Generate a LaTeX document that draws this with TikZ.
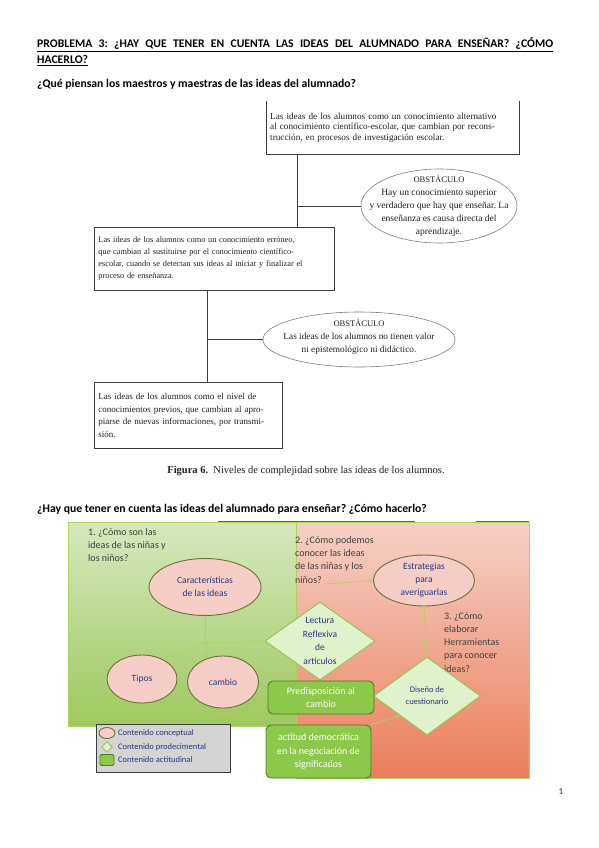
\documentclass[tikz,border=0pt]{standalone}
\usepackage{fontspec}
\setmainfont{Liberation Serif}
\newfontfamily\calibri{Carlito}
\usepackage{xcolor}
\usetikzlibrary{arrows.meta, positioning, shapes.geometric}
\definecolor{tinta}{RGB}{30, 30, 30}
\definecolor{marco}{RGB}{60, 60, 60}
\definecolor{obstgris}{RGB}{125, 125, 125}
\definecolor{verdesup}{RGB}{214, 232, 190}
\definecolor{verdeinf}{RGB}{158, 200, 94}
\definecolor{rojosup}{RGB}{246, 208, 198}
\definecolor{rojoinf}{RGB}{234, 126, 90}
\definecolor{rosa}{RGB}{247, 205, 200}
\definecolor{oliva}{RGB}{105, 115, 50}
\definecolor{verdeclaro}{RGB}{224, 242, 204}
\definecolor{verdeborde}{RGB}{150, 196, 80}
\definecolor{verdeact}{RGB}{140, 200, 74}
\definecolor{verdeoscuro}{RGB}{80, 120, 40}
\definecolor{azul}{RGB}{40, 55, 125}
\definecolor{flecha}{RGB}{170, 212, 92}
\definecolor{gris}{RGB}{64, 64, 64}
\definecolor{leyenda}{RGB}{212, 212, 212}
\newcommand{\fila}[2]{\makebox[#1][s]{#2}}
\frenchspacing

\begin{document}
\begin{tikzpicture}[x=1pt, y=-1pt, >=Stealth,
  encabezado/.style={anchor=base west, inner sep=0pt,
    font=\calibri\bfseries\fontsize{11.7}{13}\selectfont},
  caja/.style={rectangle, anchor=north west, inner xsep=4pt, inner ysep=0pt,
    align=left, text=tinta},
  obst/.style={ellipse, draw=obstgris, line width=0.6pt, inner sep=0pt},
  enlace/.style={marco, line width=0.9pt},
  concepto/.style={ellipse, draw=oliva, fill=rosa, line width=0.9pt, text=azul,
    inner sep=0pt, align=center, font=\calibri\fontsize{9.5}{13}\selectfont},
  procedim/.style={diamond, draw=verdeborde, fill=verdeclaro, line width=0.9pt,
    text=azul, inner sep=0pt, align=center},
  actitud/.style={rectangle, rounded corners=5pt, draw=verdeoscuro, fill=verdeact,
    line width=0.9pt, text=white, align=center,
    font=\calibri\fontsize{10}{13.5}\selectfont},
  pregunta/.style={anchor=north west, align=left, text=gris, inner sep=0pt,
    font=\calibri\fontsize{10}{13.3}\selectfont},
  conector/.style={flecha, line width=0.7pt},
  punta/.style={conector, -{Straight Barb[length=3pt, width=4pt]}}]

  \useasboundingbox (0,0) rectangle (599,848);

  % --- page headings ---
  \node[encabezado] (titulo1) at (37,47.5)
    {\underline{\fila{516pt}{PROBLEMA 3: ¿HAY QUE TENER EN CUENTA LAS IDEAS DEL ALUMNADO PARA ENSEÑAR? ¿CÓMO}}};
  \node[encabezado] (titulo2) at (37,63.5) {\underline{HACERLO?}};
  \node[encabezado] (pregunta1) at (37,88)
    {¿Qué piensan los maestros y maestras de las ideas del alumnado?};

  % --- figura 6: niveles (cajas) ---
  \node[caja, text width=245pt, minimum height=53pt, font=\fontsize{9.2}{10.2}\selectfont]
    (nivel1) at (266,101)
    {\fila{245pt}{Las ideas de los alumnos como un conocimiento alternativo}\\
     \fila{245pt}{al conocimiento científico-escolar, que cambian por recons-}\\
     trucción, en procesos de investigación escolar.};
  \draw[enlace] (nivel1.north west) |- (nivel1.south east) -- (nivel1.north east);

  \node[caja, draw=marco, line width=0.9pt, text width=232pt, minimum height=63pt,
    font=\fontsize{8.3}{12}\selectfont]
    (nivel2) at (94,227)
    {\fila{232pt}{Las ideas de los alumnos como un conocimiento erróneo,}\\
     \fila{232pt}{que cambian al sustituirse por el conocimiento científico-}\\
     \fila{232pt}{escolar, cuando se detectan sus ideas al iniciar y finalizar el}\\
     proceso de enseñanza.};

  \node[caja, draw=marco, line width=0.9pt, text width=180pt, minimum height=66pt,
    font=\fontsize{9}{12.5}\selectfont]
    (nivel3) at (94,382)
    {\fila{180pt}{Las ideas de los alumnos como el nivel de}\\
     \fila{180pt}{conocimientos previos, que cambian al apro-}\\
     \fila{180pt}{piarse de nuevas informaciones, por transmi-}\\
     sión.};

  % --- obstaculos ---
  \node[obst, minimum width=156pt, minimum height=74pt,
    label={[align=center, text=tinta, font=\fontsize{9.5}{13}\selectfont]center:
      {\fontsize{8.5}{13}\selectfont OBSTÁCULO}\\Hay un conocimiento superior\\
      y verdadero que hay que enseñar. La\\enseñanza es causa directa del\\aprendizaje.}]
    (obst1) at (439,206) {};
  \node[obst, minimum width=192pt, minimum height=55pt,
    label={[align=center, text=tinta, yshift=3pt, font=\fontsize{9.3}{13}\selectfont]center:
      {\fontsize{8.5}{13}\selectfont OBSTÁCULO}\\Las ideas de los alumnos no tienen valor\\
      ni epistemológico ni didáctico.}]
    (obst2) at (359,339.5) {};

  % --- trazos verticales y ramas ---
  \coordinate (eje1) at (297,0);
  \coordinate (eje2) at (207,0);
  \draw[enlace] (nivel1.south -| eje1) -- (nivel2.north -| eje1);
  \draw[enlace] (eje1 |- obst1.west) -- (obst1.west);
  \draw[enlace] (nivel2.south -| eje2) -- (nivel3.north -| eje2);
  \draw[enlace] (eje2 |- obst2.west) -- (obst2.west);

  \node[font=\fontsize{10.5}{12}\selectfont, text=tinta] (pie) at (306,471)
    {\textbf{Figura 6.}\ \ Niveles de complejidad sobre las ideas de los alumnos.};

  % --- second heading ---
  \node[encabezado] (pregunta2) at (37,512)
    {¿Hay que tener en cuenta las ideas del alumnado para enseñar? ¿Cómo hacerlo?};

  % --- fondos degradados ---
  \shade[top color=rojosup, bottom color=rojoinf] (296,522) rectangle (529,778);
  \draw[flecha, line width=0.8pt] (296,522) rectangle (529,778);
  \shade[top color=verdesup, bottom color=verdeinf] (68,522) rectangle (296,726);
  \draw[flecha, line width=0.8pt] (68,522) rectangle (296,726);
  \draw[verdeoscuro, line width=1.4pt] (218,521.5) -- (415,521.5);
  \draw[verdeoscuro, line width=1.4pt] (476,521.5) -- (529,521.5);

  % --- preguntas ---
  \node[pregunta] (preg1) at (88,528) {1. ¿Cómo son las\\ideas de las niñas y\\los niños?};
  \node[pregunta] (preg2) at (295,536) {2. ¿Cómo podemos\\conocer las ideas\\de las niñas y los\\niños?};
  \node[pregunta] (preg3) at (444,612) {3. ¿Cómo\\elaborar\\Herramientas\\para conocer\\ideas?};

  % --- contenidos ---
  \node[concepto, minimum width=112pt, minimum height=57pt] (caract) at (205,587)
    {Características\\de las ideas};
  \node[concepto, minimum width=70pt, minimum height=48pt] (tipos) at (142,679) {Tipos};
  \node[concepto, minimum width=71pt, minimum height=52pt] (cambio) at (223,682) {cambio};
  \node[concepto, minimum width=101pt, minimum height=51pt] (estr) at (424,580.5)
    {Estrategias\\para\\averiguarlas};
  \node[procedim, minimum width=110pt, minimum height=78pt, shape aspect=1.41,
    font=\calibri\fontsize{9.5}{13.5}\selectfont] (lectura) at (320,641)
    {Lectura\\Reflexiva\\de\\artículos};
  \node[procedim, minimum width=107pt, minimum height=78pt, shape aspect=1.37,
    font=\calibri\fontsize{8.5}{12}\selectfont] (diseno) at (427,696)
    {Diseño de\\cuestionario};
  \node[actitud, minimum width=106pt, minimum height=33pt] (predis) at (321,697.5)
    {Predisposición al\\cambio};
  \node[actitud, minimum width=105pt, minimum height=53pt] (actit) at (318.5,751.5)
    {actitud democrática\\en la negociación de\\significados};

  % --- conectores ---
  \coordinate (nudo) at (205,643);
  \coordinate (cruce) at (estr.south |- lectura.east);
  \coordinate (salida2) at (325,584);
  \draw[conector] (caract.south) -- (nudo);
  \draw[punta] (lectura.west) -- (nudo);
  \draw[punta, dashed] (nudo) -- (tipos.40);
  \draw[punta] (nudo) -- (cambio.125);
  \draw[punta] (lectura.east) -- (cruce);
  \draw[conector] (estr.south) -- (diseno.north);
  \draw[punta] (salida2) -- (estr.west);
  \draw[punta, dashed] (actit.north west) -- (tipos.-40);
  \draw[punta, dashed] (actit.north west) -- (cambio.-70);
  \draw[punta] (actit.north east) -- (diseno.south west);

  % --- leyenda ---
  \node[draw=marco, fill=leyenda, line width=1pt, minimum width=134pt, minimum height=48pt,
    anchor=north west] (leyenda) at (96,724) {};
  \tikzset{
    legconc/.style={concepto, minimum width=16pt, minimum height=11pt},
    legproc/.style={procedim, minimum width=11pt, minimum height=11pt},
    legact/.style={actitud, rounded corners=1.5pt, minimum width=14pt, minimum height=11pt}}
  \foreach \y/\estilo/\texto in {
    733/legconc/Contenido conceptual,
    747/legproc/Contenido prodecimental,
    760/legact/Contenido actitudinal}
  {
    \node[\estilo] (sim\y) at (107,\y) {};
    \node[right, inner sep=0pt, text=azul, font=\calibri\fontsize{8.5}{10}\selectfont]
      (txt\y) at (118,\y) {\texto};
  }

  \node[font=\calibri\fontsize{9}{10}\selectfont, text=tinta] (pagina) at (561,792) {1};

\end{tikzpicture}
\end{document}
